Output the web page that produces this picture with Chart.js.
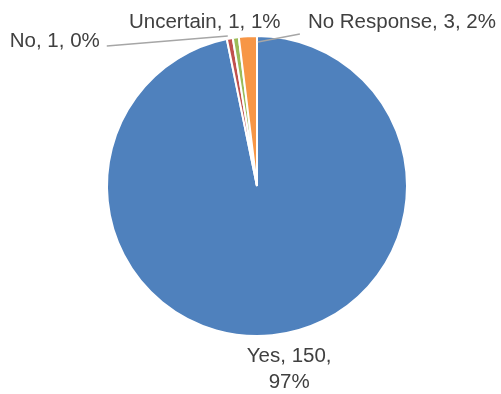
<!DOCTYPE html>
<html>
<head>
<meta charset="utf-8">
<script src="https://cdn.jsdelivr.net/npm/chart.js@4.4.1/dist/chart.umd.min.js"></script>
<style>
  html, body { margin: 0; padding: 0; background: #fff; }
  #chart { display: block; }
</style>
</head>
<body>
<canvas id="chart" width="501" height="394"></canvas>
<script>
const categories = ["Yes", "No", "Uncertain", "No Response"]
const counts = [150, 1, 1, 3]
const percents = [97, 0, 1, 2]
const colors = ["#4F81BD", "#C0504D", "#9BBB59", "#F79646"]

// where each label sits, measured from the outer edge point of its slice
const labelPlace = [
  { dx: 17, dy: 27, align: "center", split: true, leader: null },
  { dx: -130, dy: 8.5, align: "right", split: false, leader: [-123, 7.5, -2, -2.5] },
  { dx: -31, dy: -10, align: "center", split: false, leader: null },
  { dx: 60, dy: -8.3, align: "left", split: false, leader: [52, -2.3, 10, 5.7] }
]

const pieLabels = {
  id: "pieLabels",
  afterDatasetsDraw(chart) {
    const ctx = chart.ctx
    const arcs = chart.getDatasetMeta(0).data
    ctx.save()
    ctx.font = "20.5px 'Liberation Sans'"
    ctx.fillStyle = "#404040"
    ctx.strokeStyle = "#A6A6A6"
    ctx.lineWidth = 1.5
    arcs.forEach((arc, i) => {
      const p = arc.getProps(["x", "y", "startAngle", "endAngle", "outerRadius"], true)
      const mid = (p.startAngle + p.endAngle) / 2
      const ax = p.x + Math.cos(mid) * p.outerRadius
      const ay = p.y + Math.sin(mid) * p.outerRadius
      const place = labelPlace[i]
      if (place.leader) {
        const l = place.leader
        ctx.beginPath()
        ctx.moveTo(ax + l[0], ay + l[1])
        ctx.lineTo(ax + l[2], ay + l[3])
        ctx.stroke()
      }
      ctx.textAlign = place.align
      ctx.textBaseline = "alphabetic"
      const lines = place.split
        ? [`${categories[i]}, ${counts[i]},`, `${percents[i]}%`]
        : [`${categories[i]}, ${counts[i]}, ${percents[i]}%`]
      lines.forEach((t, k) => ctx.fillText(t, ax + place.dx, ay + place.dy + k * 26))
    })
    ctx.restore()
  }
}

new Chart(document.getElementById("chart"), {
  type: "pie",
  data: {
    labels: categories,
    datasets: [{
      data: counts,
      backgroundColor: colors,
      borderColor: "#FFFFFF",
      borderWidth: 2,
      hoverOffset: 0,
      radius: 150
    }]
  },
  options: {
    responsive: false,
    animation: false,
    devicePixelRatio: 1,
    layout: { padding: { left: 107, right: 94, top: 36, bottom: 58 } },
    plugins: {
      legend: { display: false },
      tooltip: { enabled: false }
    }
  },
  plugins: [pieLabels]
})
</script>
</body>
</html>
